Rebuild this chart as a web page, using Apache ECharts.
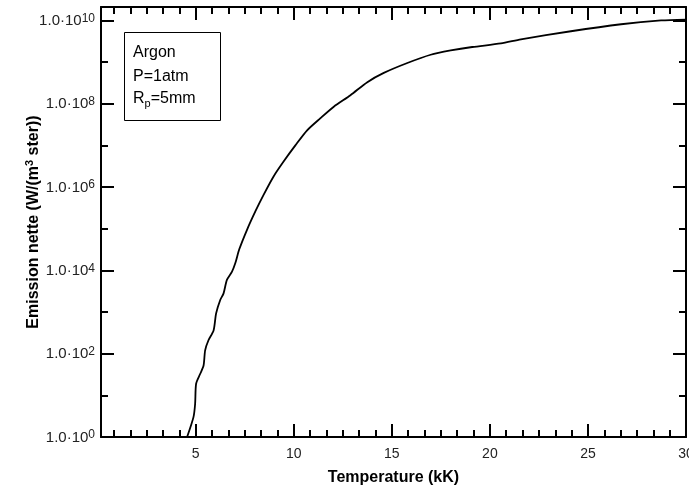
<!DOCTYPE html>
<html>
<head>
<meta charset="utf-8">
<script src="https://cdn.jsdelivr.net/npm/echarts@6/dist/echarts.min.js"></script>
<style>html,body{margin:0;padding:0;background:#fff}#c{width:689px;height:485px}</style>
</head>
<body>
<div id="c"></div>
<script>
// Temperature (kK)
const temperature = [4.56, 4.885, 4.97, 5.02, 5.23, 5.40, 5.48, 5.65, 5.91, 6.04, 6.25, 6.42, 6.59, 6.85, 7.02, 7.22, 7.61, 8.04, 8.46, 8.97, 9.48, 10.08, 10.68, 11.36, 12.04, 12.89, 13.75, 14.59, 15.79, 16.98, 18.0, 19.1, 20.56, 21.58, 24.13, 26.69, 28.73, 30.0];
// Emission nette (W/(m3 ster))
const emission = [1.0, 3.0, 6.3, 19, 33, 52, 120, 210, 360, 930, 1.95e3, 2.8e3, 5.9e3, 9.3e3, 1.5e4, 3.2e4, 9.3e4, 2.6e5, 6.5e5, 1.8e6, 4.1e6, 1.0e7, 2.3e7, 4.5e7, 8.5e7, 1.6e8, 3.3e8, 5.5e8, 9.5e8, 1.5e9, 1.9e9, 2.3e9, 2.8e9, 3.5e9, 5.5e9, 8.1e9, 1.0e10, 1.05e10];
// x axis tick labels
const xMajorTicks = [5, 10, 15, 20, 25, 30];
const xMinorTicks = [];
for (let k = 1; k <= 36; k++) xMinorTicks.push(k * 5 / 6);
const legendLines = ['Argon', 'P=1atm', 'R_p=5mm'];

const FONT = 'Liberation Sans, Arial, Helvetica, sans-serif';
const X_MIN = 0.17, X_MAX = 30, Y_MIN = 1, Y_MAX = 2.1e10;

function xAxisDef(pos, ticks, len, withLine, withLabel) {
  return {
    type: 'value', position: pos, min: X_MIN, max: X_MAX,
    axisLine: { show: withLine, onZero: false, lineStyle: { color: '#000', width: 2 } },
    axisTick: { show: true, inside: true, length: len, customValues: ticks, lineStyle: { color: '#000', width: 2 } },
    axisLabel: withLabel ? { show: true, customValues: ticks, color: '#222', fontSize: 14, fontFamily: FONT, margin: 10 } : { show: false },
    splitLine: { show: false }
  };
}
function yAxisDef(pos, interval, len, withLine, withLabel) {
  return {
    type: 'log', logBase: 10, position: pos, min: Y_MIN, max: Y_MAX, interval: interval,
    axisLine: { show: withLine, onZero: false, lineStyle: { color: '#000', width: 2 } },
    axisTick: { show: true, inside: true, length: len, lineStyle: { color: '#000', width: 2 } },
    axisLabel: withLabel ? {
      show: true, showMaxLabel: false, margin: 6,
      formatter: function (v) {
        const e = Math.round(Math.log10(v));
        return '{b|1.0\u00b710}{s|' + e + '}';
      },
      rich: {
        b: { fontSize: 15, fontFamily: FONT, color: '#222', verticalAlign: 'bottom' },
        s: { fontSize: 12, fontFamily: FONT, color: '#222', verticalAlign: 'bottom', padding: [0, 0, 4, 0] }
      }
    } : { show: false },
    splitLine: { show: false }
  };
}

const xs = [
  xAxisDef('bottom', xMajorTicks, 13, true, true),
  xAxisDef('bottom', xMinorTicks, 7, false, false),
  xAxisDef('top', xMajorTicks, 13, true, false),
  xAxisDef('top', xMinorTicks, 7, false, false)
];
xs[0].name = 'Temperature (kK)';
xs[0].nameLocation = 'middle';
xs[0].nameGap = 33;
xs[0].nameTextStyle = { fontSize: 16, fontWeight: 'bold', fontFamily: FONT, color: '#000' };

const ys = [
  yAxisDef('left', 2, 13, true, true),
  yAxisDef('left', 1, 7, false, false),
  yAxisDef('right', 2, 13, true, false),
  yAxisDef('right', 1, 7, false, false)
];
ys[0].name = '{a|Emission nette (W/(m}{s|3}{a| ster))}';
ys[0].nameLocation = 'middle';
ys[0].nameGap = 59;
ys[0].nameRotate = 90;
ys[0].nameMoveOverlap = false;
ys[0].nameTextStyle = {
  rich: {
    a: { fontSize: 16, fontWeight: 'bold', fontFamily: FONT, color: '#000', verticalAlign: 'bottom' },
    s: { fontSize: 11, fontWeight: 'bold', fontFamily: FONT, color: '#000', verticalAlign: 'bottom', padding: [0, 0, 7, 0] }
  }
};

const chart = echarts.init(document.getElementById('c'), null, { renderer: 'canvas' });
chart.setOption({
  animation: false,
  backgroundColor: '#fff',
  grid: { left: 101, right: 3, top: 7, bottom: 48, containLabel: false, outerBoundsMode: 'none' },
  xAxis: xs,
  yAxis: ys,
  series: [{
    type: 'line', xAxisIndex: 0, yAxisIndex: 0,
    data: temperature.map((t, i) => [t, emission[i]]),
    symbol: 'none', smooth: 0.25, clip: true,
    lineStyle: { color: '#000', width: 1.8 }
  }],
  graphic: [
    { type: 'rect', shape: { x: 124.5, y: 32.5, width: 96, height: 88 }, style: { fill: '#fff', stroke: '#000', lineWidth: 1 }, z: 10 },
    { type: 'text', x: 133, y: 53, z: 11, style: { text: legendLines[0], fontSize: 16, fontFamily: FONT, fill: '#000', verticalAlign: 'middle' } },
    { type: 'text', x: 133, y: 76.5, z: 11, style: { text: legendLines[1], fontSize: 16, fontFamily: FONT, fill: '#000', verticalAlign: 'middle' } },
    { type: 'text', x: 133, y: 100, z: 11, style: {
      text: '{a|' + legendLines[2].split('_')[0] + '}{b|' + legendLines[2].split('_')[1].split('=')[0] + '}{a|=' + legendLines[2].split('=')[1] + '}',
      verticalAlign: 'middle',
      rich: {
        a: { fontSize: 16, fontFamily: FONT, fill: '#000', verticalAlign: 'bottom', padding: [0, 0, 3, 0] },
        b: { fontSize: 11, fontFamily: FONT, fill: '#000', verticalAlign: 'bottom' }
      }
    } }
  ]
});
</script>
</body>
</html>
